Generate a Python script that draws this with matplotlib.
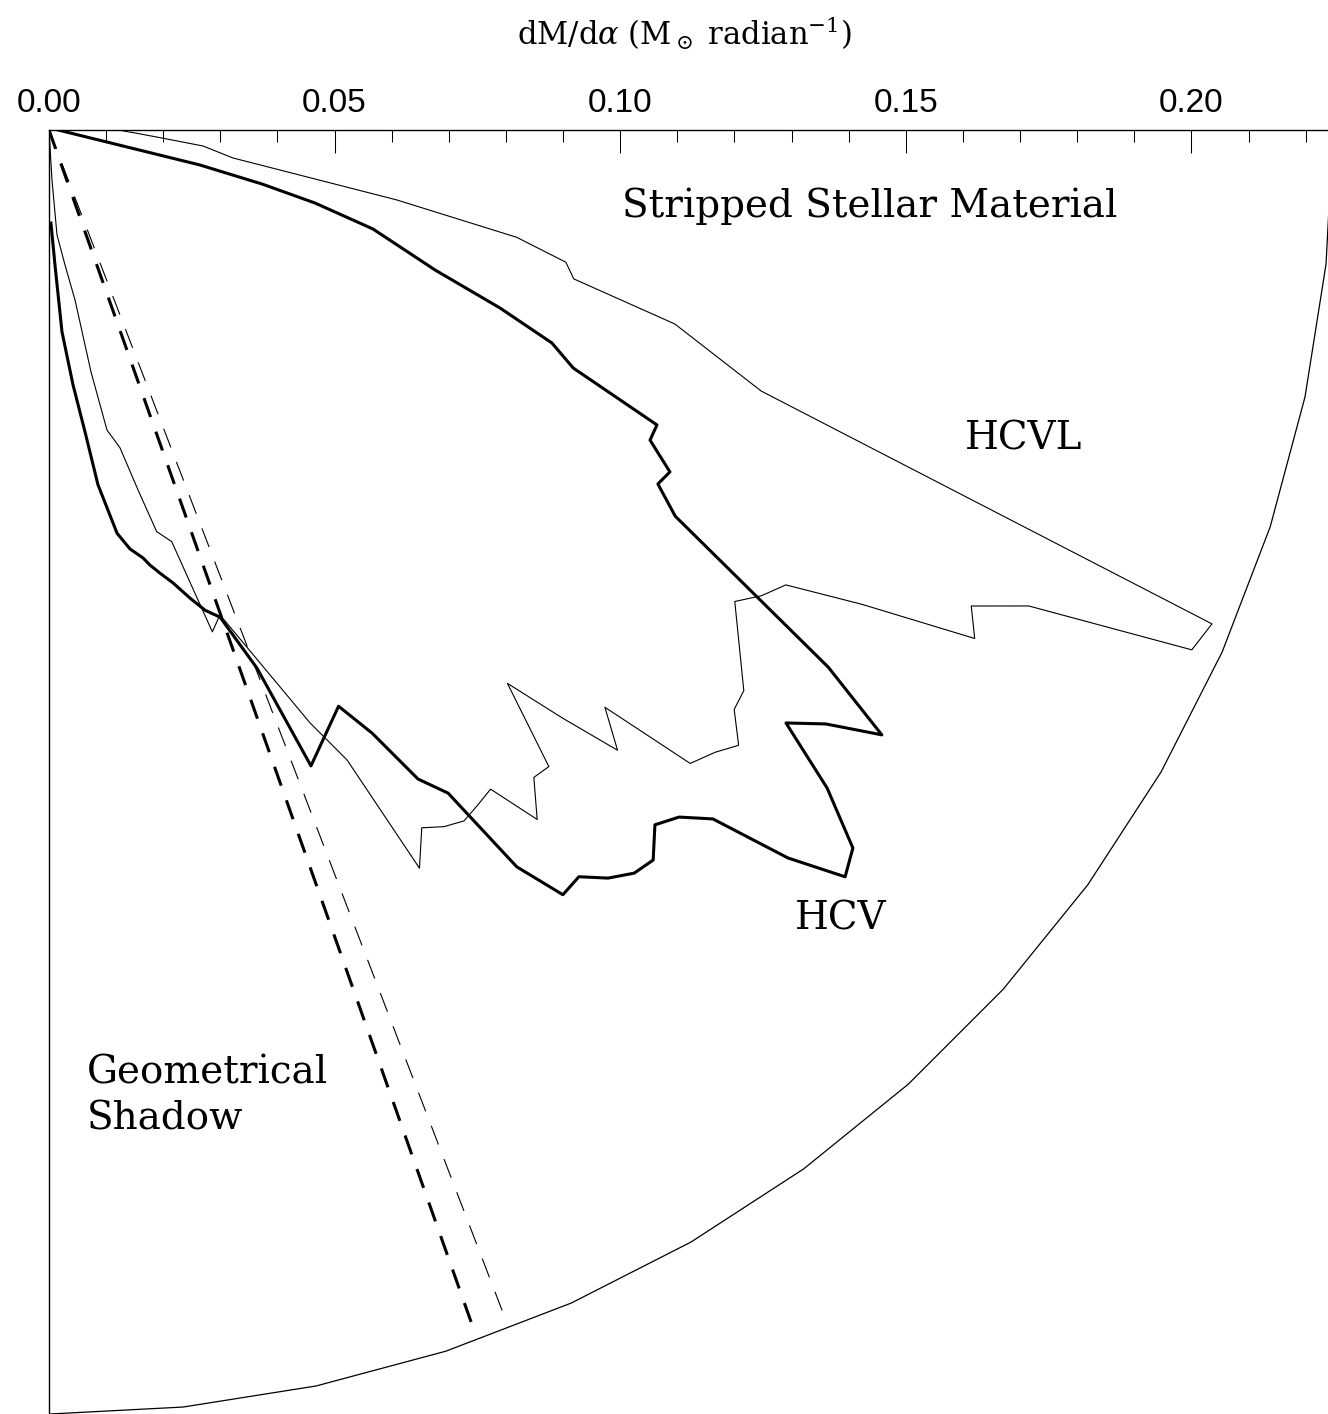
import numpy as np
import matplotlib.pyplot as plt

plt.rcParams['lines.scale_dashes'] = False

# HCV model (thick line): angle alpha (deg) and dM/dalpha (Msun / radian)
hcv_alpha = [0.0, 13.05, 14.23, 15.35, 16.99, 19.93, 21.54, 22.95, 24.42, 25.88,
             27.29, 28.84, 30.17, 31.66, 34.58, 35.99, 37.40, 38.82, 40.22, 41.77,
             43.17, 44.57, 46.06, 47.48, 48.91, 50.39, 51.78, 53.23, 54.64, 56.10,
             57.59, 58.96, 60.38, 61.82, 63.32, 67.61, 68.87, 70.65, 72.00, 73.23,
             74.69, 75.93, 76.93, 77.61, 79.06, 80.42, 82.14, 83.20, 84.62, 86.32,
             87.46, 88.8]
hcv_dm = [0.0016, 0.0271, 0.0385, 0.0483, 0.0593, 0.0719, 0.0849, 0.0956, 0.1008, 0.1183,
          0.1184, 0.1241, 0.1233, 0.1288, 0.1657, 0.1802, 0.1712, 0.1656, 0.1784, 0.1887,
          0.1911, 0.1816, 0.1675, 0.1632, 0.1614, 0.1659, 0.1656, 0.1635, 0.1603, 0.1613,
          0.1528, 0.1355, 0.1307, 0.1198, 0.1129, 0.1204, 0.1010, 0.0904, 0.0884, 0.0856,
          0.0822, 0.0800, 0.0782, 0.0767, 0.0747, 0.0716, 0.0627, 0.0532, 0.0448, 0.0354,
          0.0237, 0.0163]

# HCVL model (thin line)
hcvl_alpha = [0.0, 2.15, 4.15, 5.93, 8.65, 11.37, 12.92, 14.35, 15.84, 17.22,
              20.13, 23.01, 24.46, 25.91, 27.30, 28.78, 30.26, 31.69, 33.18, 34.51,
              38.90, 40.22, 41.74, 43.04, 44.65, 46.08, 47.49, 48.87, 50.36, 51.86,
              53.17, 54.70, 56.18, 57.58, 59.01, 60.45, 61.89, 63.35, 64.68, 66.24,
              70.58, 71.97, 73.40, 74.99, 76.11, 77.41, 79.06, 80.15, 81.30, 83.24,
              85.64, 86.57, 90.0]
hcvl_dm = [0.0121, 0.0154, 0.0201, 0.0271, 0.0326, 0.0621, 0.0840, 0.0934, 0.0955, 0.1147,
           0.1328, 0.2212, 0.2198, 0.1907, 0.1817, 0.1849, 0.1648, 0.1516, 0.1490, 0.1457,
           0.1563, 0.1571, 0.1618, 0.1596, 0.1578, 0.1403, 0.1473, 0.1367, 0.1258, 0.1417,
           0.1416, 0.1479, 0.1389, 0.1400, 0.1411, 0.1402, 0.1385, 0.1446, 0.1220, 0.1134,
           0.0900, 0.0924, 0.0752, 0.0728, 0.0649, 0.0570, 0.0535, 0.0430, 0.0301, 0.0238,
           0.0184, 0.0088, 0.0]

# edges of the geometrical shadow (HCV, HCVL)
shadow_alpha = [70.5, 69.0]
shadow_dm = 0.2233

rim_dm = 0.2248
rim_alpha = np.arange(0, 91, 6)

xticks = [0.00, 0.05, 0.10, 0.15, 0.20]


def polar(a, r):
    a = np.radians(np.asarray(a, dtype=float))
    r = np.asarray(r, dtype=float)
    return r * np.cos(a), r * np.sin(a)


fig = plt.figure(figsize=(13.28, 14.14), dpi=100)
ax = fig.add_axes([49/1328, 0, 1279/1328, 1284/1414])

x, y = polar(hcv_alpha, hcv_dm)
ax.plot(x, y, color='black', lw=2.2)
x, y = polar(hcvl_alpha, hcvl_dm)
ax.plot(x, y, color='black', lw=0.8)

x, y = polar([shadow_alpha[0]] * 2, [0, shadow_dm])
ax.plot(x, y, color='black', lw=2.2, dashes=(14.4, 11.2))
x, y = polar([shadow_alpha[1]] * 2, [0, shadow_dm])
ax.plot(x, y, color='black', lw=0.8, dashes=(14.4, 11.2))

x, y = polar(rim_alpha, [rim_dm] * len(rim_alpha))
ax.plot(x, y, color='black', lw=0.9)

ax.set_xlim(0, 1279/5712)
ax.set_ylim(1284/5712, 0)

serif = 'DejaVu Serif'
ax.text(0.1003, 0.0152, 'Stripped Stellar Material', family=serif, size=28, va='baseline')
ax.text(0.1604, 0.0560, 'HCVL', family=serif, size=28, va='baseline')
ax.text(0.1306, 0.1399, 'HCV', family=serif, size=28, va='baseline')
ax.text(0.0066, 0.1669, 'Geometrical', family=serif, size=28, va='baseline')
ax.text(0.0066, 0.1750, 'Shadow', family=serif, size=28, va='baseline')

for s in ['right', 'bottom']:
    ax.spines[s].set_visible(False)
ax.spines['top'].set_linewidth(1.0)
ax.spines['left'].set_linewidth(1.0)

ax.set_yticks([])
ax.xaxis.set_ticks_position('top')
ax.set_xticks(xticks)
ax.set_xticklabels(['%.2f' % t for t in xticks], family='Liberation Sans')
ax.set_xticks(np.arange(0.01, 0.225, 0.01), minor=True)
ax.tick_params(which='major', direction='in', length=16.5, width=0.75,
               labelsize=24, pad=8, top=True, bottom=False)
ax.tick_params(which='minor', direction='in', length=8.3, width=0.75,
               top=True, bottom=False)

plt.rcParams['mathtext.fontset'] = 'dejavuserif'
fig.text(684/1328, 1 - 33/1414, r'dM/d$\alpha$ (M$_\odot$ radian$^{-1}$)',
         family=serif, size=22, ha='center', va='center')

plt.savefig('out.png', dpi=100)
